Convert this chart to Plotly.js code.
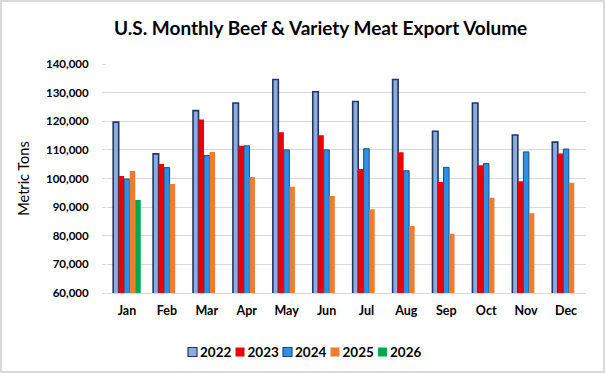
<!DOCTYPE html>
<html>
<head>
<meta charset="utf-8">
<script src="https://cdn.plot.ly/plotly-3.0.1.min.js"></script>
<style>
html,body{margin:0;padding:0;background:#fff;}
#wrap{position:relative;width:605px;height:373px;}
#chart{position:absolute;left:0;top:0;width:605px;height:373px;}
#frame{position:absolute;left:0;top:0;width:601px;height:369px;border:2px solid #d9d9d9;pointer-events:none;}
</style>
</head>
<body>
<div id="wrap"><div id="chart"></div><div id="frame"></div></div>
<script>
const months = ["Jan","Feb","Mar","Apr","May","Jun","Jul","Aug","Sep","Oct","Nov","Dec"];
const years = ["2022","2023","2024","2025","2026"];
const v2022 = [119700,108600,123700,126400,134600,130300,126900,134600,116500,126400,115200,112700];
const v2023 = [100900,105100,120600,111400,116200,115100,103300,109200,98800,104600,99000,108700];
const v2024 = [99800,103800,108000,111400,110000,110000,110400,102700,103900,105200,109300,110300];
const v2025 = [102600,98100,109300,100500,97100,93900,89300,83400,80700,93300,87900,98500];
const v2026 = [92500];
const yTicks = [60000,70000,80000,90000,100000,110000,120000,130000,140000];

const seriesVals = [v2022,v2023,v2024,v2025,v2026];
const fills = ["#8faadc","#ee0000","#2e8fe6","#ed7d31","#00a94f"];
const lines = ["#1f3864","#ee0000","#1f4e79","#ed7d31","#00a94f"];
const lineW = [1.6,0,1,0,0];

const traces = seriesVals.map((vals,i)=>({
  type:"bar",
  name:"<b>"+years[i]+"</b>",
  x:months.slice(0,vals.length),
  y:vals,
  marker:{color:fills[i],line:{color:lines[i],width:lineW[i]}},
  hoverinfo:"x+y+name"
}));

const font = "Lato, 'Open Sans', 'Liberation Sans', sans-serif";
const layout = {
  width:605,height:373,
  paper_bgcolor:"#fff",plot_bgcolor:"#fff",
  margin:{l:107,r:19,t:64,b:80},
  barmode:"group",bargap:0.31,bargroupgap:0,
  font:{family:font,color:"#000"},
  title:{text:"<b>U.S. Monthly Beef & Variety Meat Export Volume</b>",font:{family:font,size:19,color:"#000"},x:0.53,xanchor:"center",y:0.925,yanchor:"middle"},
  xaxis:{categoryorder:"array",categoryarray:months,tickvals:months,ticktext:months.map(m=>"<b>"+m+"</b>"),
    showline:true,linecolor:"#d9d9d9",linewidth:1,ticks:"",tickfont:{size:12.5,color:"#000"},ticklabelstandoff:6,fixedrange:true,automargin:false},
  yaxis:{range:[60000,140000],tickvals:yTicks,ticktext:yTicks.map(t=>"<b>"+t.toLocaleString("en-US")+"</b>"),
    gridcolor:"#d9d9d9",gridwidth:1,zeroline:false,showline:false,ticks:"outside",ticklen:4,tickcolor:"#d9d9d9",
    tickfont:{size:11.5,color:"#000"},ticklabelstandoff:11,automargin:false,
    title:{text:"Metric Tons",font:{size:14.5,color:"#000"},standoff:12}},
  legend:{orientation:"h",x:0.45,xanchor:"center",y:0.5,yanchor:"middle",font:{size:13.5,color:"#000",family:font},
    itemwidth:30,tracegroupgap:0,traceorder:"normal"},
  showlegend:true
};
Plotly.newPlot("chart",traces,layout,{displayModeBar:false,staticPlot:true}).then(gd=>{
  // move and compact legend to match reference placement (below the plot)
  const leg = gd.querySelector(".legend");
  if(!leg) return;
  const m = /translate\(\s*([-\d.]+)[ ,]+([-\d.]+)/.exec(leg.getAttribute("transform")||"");
  const lx = m ? parseFloat(m[1]) : 0;
  leg.querySelectorAll("[clip-path]").forEach(e=>e.removeAttribute("clip-path"));
  const bg = leg.querySelector("rect.bg"); if(bg) bg.setAttribute("width", 0);
  const items = leg.querySelectorAll("g.traces");
  const startAbs = 188, step = 47.5, legendY = 352;
  let ty0 = null;
  items.forEach((g,i)=>{
    const t = /translate\(\s*([-\d.]+)[ ,]+([-\d.]+)/.exec(g.getAttribute("transform")||"");
    const ty = t ? parseFloat(t[2]) : 0;
    if(ty0===null) ty0 = ty;
    g.setAttribute("transform",`translate(${startAbs + i*step - lx},${ty})`);
    g.querySelectorAll(".legendpoints").forEach(p=>p.setAttribute("transform","translate(0,0)"));
    g.querySelectorAll(".legendpoints g").forEach(p=>p.setAttribute("transform","translate(0,0)"));
    g.querySelectorAll(".legendpoints path").forEach(p=>{
      p.setAttribute("d","M4.5,4.5H-4.5V-4.5H4.5Z");
      p.setAttribute("transform","translate(4.5,0)");
      p.style.strokeWidth = (parseFloat(p.style.strokeWidth)||0) > 0 ? "1.2px" : "0px";
    });
    const tx = g.querySelector("text.legendtext");
    if(tx){ tx.setAttribute("x", 12); }
  });
  leg.setAttribute("transform",`translate(${lx},${legendY - (ty0||0)})`);
});
</script>
</body>
</html>
